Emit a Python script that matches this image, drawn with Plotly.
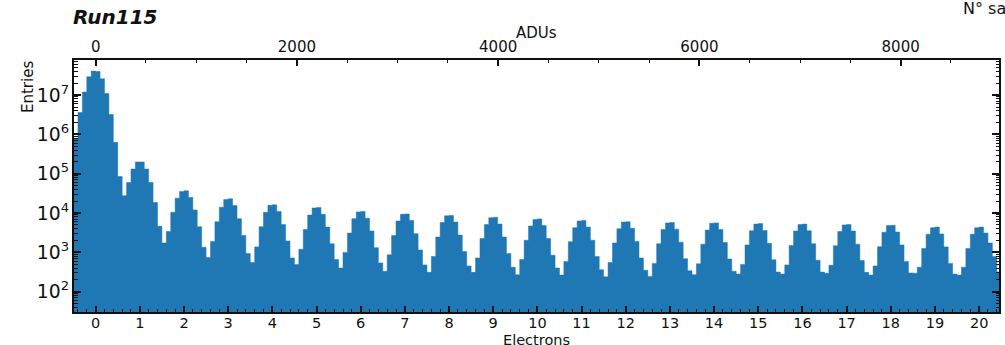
import numpy as np
import plotly.graph_objects as go

# ---- histogram contents: counts per 0.1-electron bin, one list per electron peak
# (bins centred from n-0.45 to n+0.45 for each n)
entries_0e = [7.9e5, 3.6e6, 1.2e7, 2.95e7, 4.1e7, 4.0e7, 2.6e7, 1.1e7, 3.2e6, 6.3e5]
entries_1e = [8.5e4, 2.75e4, 6.0e4, 1.32e5, 2.0e5, 2.0e5, 1.32e5, 6.0e4, 1.86e4, 4600]
entries_2e = [1740, 3400, 10500, 24000, 35500, 37000, 25000, 12000, 4500, 1350]
entries_3e = [740, 1900, 6000, 14000, 22000, 23000, 15500, 7200, 2700, 930]
entries_4e = [550, 1380, 4500, 10500, 15800, 16200, 11000, 5100, 1950, 720]
entries_5e = [490, 1200, 3800, 8900, 13500, 13800, 9300, 4400, 1660, 660]
entries_6e = [400, 1000, 3100, 7200, 10700, 11000, 7400, 3500, 1320, 540]
entries_7e = [330, 870, 2700, 6300, 9300, 9500, 6500, 3000, 1150, 480]
entries_8e = [310, 790, 2450, 5750, 8500, 8700, 5900, 2750, 1050, 450]
entries_9e = [310, 720, 2240, 5100, 7600, 7800, 5250, 2450, 930, 420]
entries_10e = [270, 660, 2040, 4700, 6900, 7100, 4800, 2240, 850, 400]
entries_11e = [265, 590, 1860, 4250, 6300, 6500, 4400, 2040, 780, 360]
entries_12e = [240, 550, 1740, 4000, 5900, 6000, 4100, 1900, 720, 350]
entries_13e = [245, 525, 1660, 3800, 5600, 5750, 3900, 1820, 690, 340]
entries_14e = [270, 510, 1620, 3700, 5500, 5600, 3800, 1780, 680, 330]
entries_15e = [280, 490, 1550, 3550, 5250, 5400, 3600, 1700, 650, 316]
entries_16e = [280, 480, 1500, 3500, 5100, 5250, 3550, 1660, 630, 316]
entries_17e = [295, 470, 1480, 3400, 5000, 5100, 3500, 1620, 620, 310]
entries_18e = [265, 450, 1400, 3250, 4800, 4900, 3300, 1550, 590, 300]
entries_19e = [295, 420, 1260, 2900, 4250, 4400, 2950, 1380, 525, 280]
entries_20e = [265, 420, 1260, 2900, 4250, 4400, 3100, 1740, 790, 316]

peaks = [entries_0e, entries_1e, entries_2e, entries_3e, entries_4e, entries_5e,
         entries_6e, entries_7e, entries_8e, entries_9e, entries_10e, entries_11e,
         entries_12e, entries_13e, entries_14e, entries_15e, entries_16e,
         entries_17e, entries_18e, entries_19e, entries_20e]
entries = np.concatenate([np.asarray(p, dtype=float) for p in peaks])

BIN_WIDTH = 0.1
FIRST_EDGE = -0.5
bin_edges = np.round(FIRST_EDGE + np.arange(len(entries) + 1) * BIN_WIDTH, 2)

# step outline of the histogram: each bin holds its value until the next edge
step_x = bin_edges
step_y = np.append(entries, entries[-1])

ADU_PER_ELECTRON = 439.0
x_range = [-0.49, 20.45]
adu_range = [x_range[0] * ADU_PER_ELECTRON, x_range[1] * ADU_PER_ELECTRON]
log_y_range = [1.483, 7.895]

FONT = "DejaVu Sans"
BLUE = "#1f77b4"
INK = "#111111"

fig = go.Figure()
fig.add_trace(go.Scatter(
    x=step_x, y=step_y, mode="lines", line=dict(shape="hv", width=0.5, color=BLUE),
    fill="tozeroy", fillcolor=BLUE, showlegend=False, hoverinfo="x+y",
))
# empty traces so the ADU (top) and mirrored (right) axes are laid out
fig.add_trace(go.Scatter(x=[], y=[], xaxis="x2", yaxis="y", showlegend=False))
fig.add_trace(go.Scatter(x=[], y=[], xaxis="x", yaxis="y2", showlegend=False))

tick_font = dict(family=FONT, size=15, color=INK)
bottom_tick_font = dict(family=FONT, size=14.5, color=INK)
log_minor = dict(ticks="inside", dtick="D1", ticklen=3.5, tickwidth=1,
                 tickcolor=INK, showgrid=False)

fig.update_layout(
    width=1005, height=345,
    margin=dict(l=74, r=6, t=60, b=33, autoexpand=False),
    paper_bgcolor="white", plot_bgcolor="white",
    title=dict(text="<b><i>Run115</i></b>", xref="container", yref="container",
               x=73 / 1005, xanchor="left", y=1 - 17 / 345, yanchor="middle",
               font=dict(family=FONT, size=20, color=INK)),
    xaxis=dict(
        range=x_range, tickmode="linear", tick0=0, dtick=1,
        ticks="inside", ticklen=6, tickwidth=1.5, tickcolor=INK,
        minor=dict(ticks="inside", tick0=0, dtick=0.2, ticklen=3, tickwidth=1,
                   tickcolor=INK, showgrid=False),
        showline=True, linewidth=2, linecolor=INK, mirror=False,
        showgrid=False, zeroline=False, tickfont=bottom_tick_font,
        ticklabelstandoff=-3,
    ),
    xaxis2=dict(
        overlaying="x", side="top", anchor="y",
        range=adu_range, tickmode="linear", tick0=0, dtick=2000,
        ticks="inside", ticklen=6, tickwidth=1.5, tickcolor=INK,
        minor=dict(ticks="inside", tick0=0, dtick=500, ticklen=3, tickwidth=1,
                   tickcolor=INK, showgrid=False),
        showline=True, linewidth=2, linecolor=INK,
        showgrid=False, zeroline=False, tickfont=tick_font,
    ),
    yaxis=dict(
        type="log", range=log_y_range, dtick=1, exponentformat="power",
        ticks="inside", ticklen=7, tickwidth=1.5, tickcolor=INK,
        minor=log_minor,
        showline=True, linewidth=2, linecolor=INK,
        showgrid=False, zeroline=False, tickfont=tick_font,
    ),
    yaxis2=dict(
        overlaying="y", side="right", anchor="x",
        type="log", range=log_y_range, dtick=1, showticklabels=False,
        ticks="inside", ticklen=7, tickwidth=1.5, tickcolor=INK,
        minor=log_minor,
        showline=True, linewidth=2, linecolor=INK,
        showgrid=False, zeroline=False,
    ),
    annotations=[
        dict(text="ADUs", xref="paper", yref="paper", x=0.5, y=(312 - 33) / 252,
             xanchor="center", yanchor="middle", showarrow=False,
             font=dict(family=FONT, size=15, color=INK)),
        dict(text="Electrons", xref="paper", yref="paper", x=0.5, y=(312 - 339.5) / 252,
             xanchor="center", yanchor="middle", showarrow=False,
             font=dict(family=FONT, size=14.5, color=INK)),
        dict(text="Entries", xref="paper", yref="paper", x=(28 - 74) / 925,
             y=(312 - 87) / 252, textangle=-90,
             xanchor="center", yanchor="middle", showarrow=False,
             font=dict(family=FONT, size=15, color=INK)),
        dict(text="N° samples", xref="paper", yref="paper", x=(961 - 74) / 925,
             y=(312 - 8) / 252, xanchor="left", yanchor="middle", showarrow=False,
             font=dict(family=FONT, size=16, color=INK)),
    ],
)

fig.write_html("out.html")
